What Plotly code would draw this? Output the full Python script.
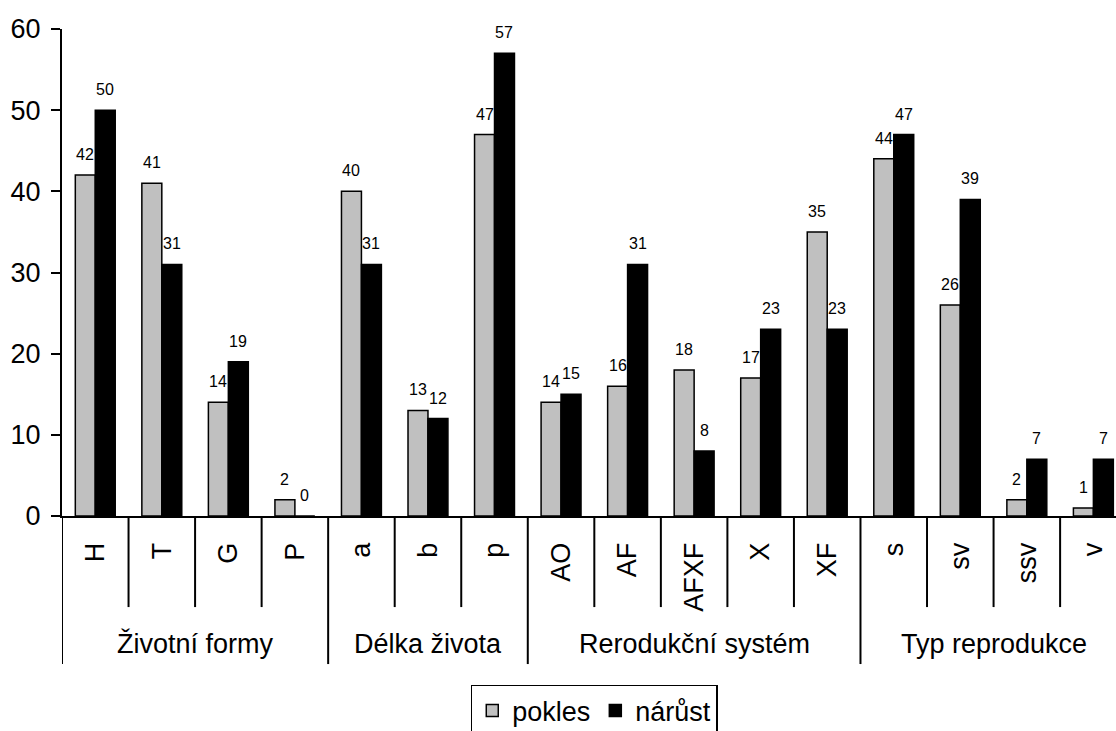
import plotly.graph_objects as go

# Categories (bottom level) and their groups (top level)
categories = ["H", "T", "G", "P", "a", "b", "p", "AO", "AF", "AFXF", "X", "XF", "s", "sv", "ssv", "v"]
groups = ["Životní formy", "Délka života", "Rerodukční systém", "Typ reprodukce"]
group_sizes = [4, 3, 5, 4]

pokles = [42, 41, 14, 2, 40, 13, 47, 14, 16, 18, 17, 35, 44, 26, 2, 1]
narust = [50, 31, 19, 0, 31, 12, 57, 15, 31, 8, 23, 23, 47, 39, 7, 7]

y_ticks = [0, 10, 20, 30, 40, 50, 60]

FONT = "Liberation Sans, Arial, sans-serif"
x_pos = list(range(len(categories)))
bar_w = 0.3

fig = go.Figure()
fig.add_trace(go.Bar(
    x=x_pos, y=pokles, name="pokles", width=bar_w, offset=-bar_w,
    marker=dict(color="#C0C0C0", line=dict(color="black", width=1.5)),
))
fig.add_trace(go.Bar(
    x=x_pos, y=narust, name="nárůst", width=bar_w, offset=0,
    marker=dict(color="black", line=dict(color="black", width=1.5)),
))

annotations = []
# value labels above each bar
for i, (a, b) in enumerate(zip(pokles, narust)):
    for xv, val in ((i - bar_w / 2, a), (i + bar_w / 2, b)):
        annotations.append(dict(
            x=xv, y=val, xref="x", yref="y", text=str(val), showarrow=False,
            yanchor="bottom", yshift=10, font=dict(size=16, color="black", family=FONT),
        ))

shapes = []
# group labels and separators
start = 0
boundaries = [-0.5]
for g, n in zip(groups, group_sizes):
    center = start + (n - 1) / 2
    annotations.append(dict(
        x=center, y=-0.262, xref="x", yref="paper", text=g, showarrow=False,
        yanchor="middle", font=dict(size=27, color="black", family=FONT),
    ))
    start += n
    boundaries.append(start - 0.5)

for k in range(1, len(categories) + 1):
    xb = k - 0.5
    is_group = xb in boundaries
    shapes.append(dict(
        type="line", xref="x", yref="paper", x0=xb, x1=xb, y0=0,
        y1=-0.304 if is_group else -0.187, line=dict(color="black", width=2),
    ))
# extension of the left axis line through the category area
shapes.append(dict(type="line", xref="x", yref="paper", x0=-0.5, x1=-0.5, y0=0, y1=-0.304,
                   line=dict(color="black", width=2)))

fig.update_layout(
    width=1116, height=731,
    margin=dict(l=62, r=0, t=29, b=215, autoexpand=False),
    plot_bgcolor="white", paper_bgcolor="white",
    barmode="overlay",
    showlegend=True,
    legend=dict(
        orientation="h", x=0.505, xanchor="center", y=-0.347, yanchor="top",
        bordercolor="black", borderwidth=1.5, font=dict(size=27, family=FONT, color="black"),
        itemwidth=30, tracegroupgap=0,
    ),
    font=dict(family=FONT, color="black"),
    annotations=annotations,
    shapes=shapes,
    xaxis=dict(
        range=[-0.5, 15.34], tickmode="array", tickvals=x_pos, ticktext=categories,
        tickangle=-90, ticks="", showgrid=False, zeroline=False,
        showline=True, linecolor="black", linewidth=2, ticklabelstandoff=14,
        tickfont=dict(size=27, family=FONT, color="black"),
    ),
    yaxis=dict(
        range=[0, 60], tickvals=y_ticks, ticks="outside", ticklen=9, tickwidth=2,
        tickcolor="black", showgrid=False, zeroline=False, ticklabelstandoff=5,
        showline=True, linecolor="black", linewidth=2,
        tickfont=dict(size=27, family=FONT, color="black"),
    ),
)

fig.write_html("out.html")
